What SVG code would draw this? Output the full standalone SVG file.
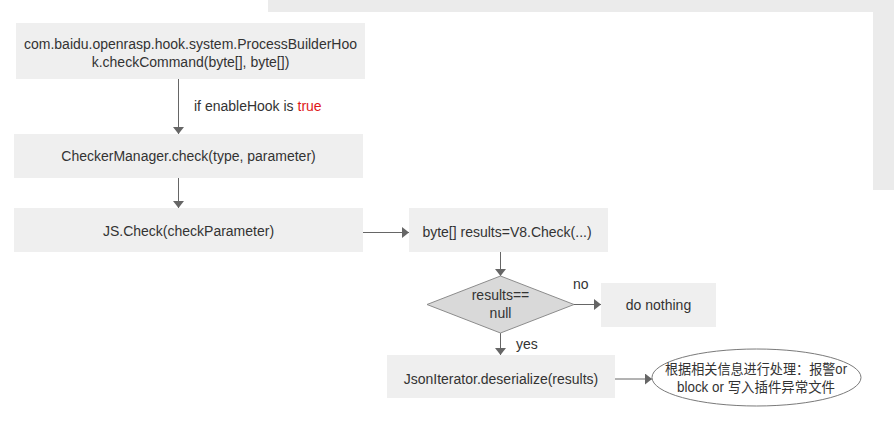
<svg xmlns="http://www.w3.org/2000/svg" width="894" height="433" viewBox="0 0 894 433">
  <style>
    .box { fill: #efefef; }
    .t { font-family: "Liberation Sans", Arial, "Noto Sans CJK SC", sans-serif; font-size: 14px; fill: #333333; }
    .c { text-anchor: middle; }
    .edge { stroke: #666666; stroke-width: 1; fill: none; marker-end: url(#arr); }
  </style>
  <defs>
    <marker id="arr" markerUnits="userSpaceOnUse" markerWidth="8" markerHeight="11" refX="7" refY="5.5" orient="auto">
      <path d="M0,0 L7,5.5 L0,11 z" fill="#666666"/>
    </marker>
  </defs>
  <rect x="0" y="0" width="894" height="433" fill="#ffffff"/>
  <g id="background">
    <rect x="268" y="0" width="626" height="12" fill="#ebebeb"/>
    <rect x="873" y="0" width="21" height="190" fill="#ebebeb"/>
  </g>
  <g id="connectors">
    <line class="edge" x1="178.5" y1="79" x2="178.5" y2="134"/>
    <line class="edge" x1="178.5" y1="178" x2="178.5" y2="208"/>
    <line class="edge" x1="363" y1="232.5" x2="409" y2="232.5"/>
    <line class="edge" x1="500.5" y1="252" x2="500.5" y2="276"/>
    <line class="edge" x1="574" y1="304.5" x2="601" y2="304.5"/>
    <line class="edge" x1="500.5" y1="333" x2="500.5" y2="355"/>
    <line class="edge" x1="615" y1="379" x2="652" y2="379"/>
    <text class="t" x="194" y="111">if enableHook is <tspan fill="#e01818">true</tspan></text>
    <text class="t" x="573" y="289">no</text>
    <text class="t" x="516" y="349">yes</text>
  </g>
  <g id="n1">
    <rect class="box" x="16" y="23" width="349" height="56"/>
    <text class="t c" x="190.5" y="49">com.baidu.openrasp.hook.system.ProcessBuilderHoo</text>
    <text class="t c" x="190.5" y="67">k.checkCommand(byte[], byte[])</text>
  </g>
  <g id="n2">
    <rect class="box" x="14" y="134" width="349" height="44"/>
    <text class="t c" x="188.5" y="161">CheckerManager.check(type, parameter)</text>
  </g>
  <g id="n3">
    <rect class="box" x="14" y="208" width="349" height="44"/>
    <text class="t c" x="188.5" y="235.5">JS.Check(checkParameter)</text>
  </g>
  <g id="n4">
    <rect class="box" x="409" y="208" width="199" height="44"/>
    <text class="t c" x="507" y="237">byte[] results=V8.Check(...)</text>
  </g>
  <g id="n5">
    <polygon points="500.5,276 574,304.5 500.5,333 427,304.5" fill="#d9d9d9" stroke="#8c8c8c" stroke-width="1"/>
    <text class="t c" x="500.5" y="300">results==</text>
    <text class="t c" x="500.5" y="318">null</text>
  </g>
  <g id="n6">
    <rect class="box" x="601" y="283" width="115" height="44"/>
    <text class="t c" x="658.5" y="310">do nothing</text>
  </g>
  <g id="n7">
    <rect class="box" x="387" y="355" width="228" height="43"/>
    <text class="t c" x="501" y="383.5">JsonIterator.deserialize(results)</text>
  </g>
  <g id="n8">
    <ellipse cx="756.5" cy="377.5" rx="104.5" ry="28.5" fill="#ffffff" stroke="#7a7a7a" stroke-width="1"/>
    <text class="t c" x="756" y="374" textLength="182" lengthAdjust="spacingAndGlyphs">根据相关信息进行处理：报警or</text>
    <text class="t c" x="756" y="392" textLength="158" lengthAdjust="spacingAndGlyphs">block or 写入插件异常文件</text>
  </g>
</svg>
